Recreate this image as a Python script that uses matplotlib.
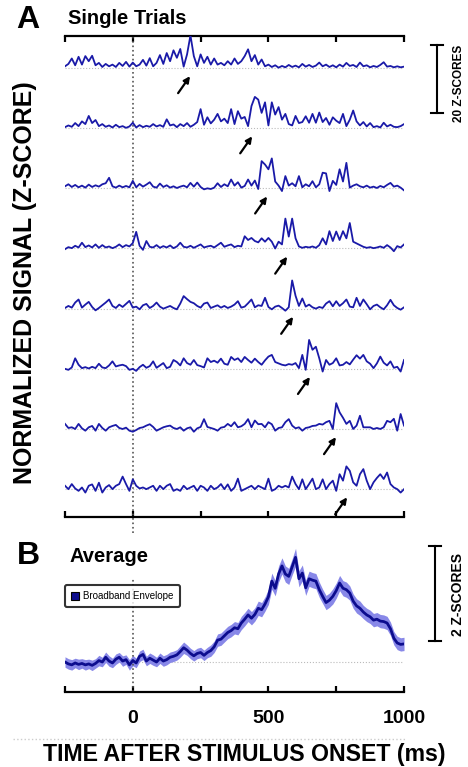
import numpy as np
import matplotlib
matplotlib.use('Agg')
import matplotlib.pyplot as plt
from matplotlib.lines import Line2D

plt.rcParams['font.family'] = ['Liberation Sans', 'DejaVu Sans']

# sample times (ms), one sample every 12.5 ms
time_ms = np.linspace(-250, 1000, 101)

# single trial broadband traces (z-score)
trial_1 = [0.5, 1.2, 2.8, 0.8, 3.3, 1.0, 3.5, 2.0, 3.6, 0.8, 1.5, 0.3, 1.2, 0.5, 1.0, 0.3, 1.5, 0.6, 1.8, 0.4,
           1.6, 0.5, 1.0, 2.4, 0.7, 2.9, 0.5, 1.5, 3.8, 1.2, 4.4, 2.0, 5.2, 3.0, 5.6, 0.4, 4.0, 9.6, 3.5, 0.5,
           4.0, 1.5, 3.3, 1.0, 2.8, 1.0, 1.5, 0.8, 2.0, 1.0, 2.8, 1.2, 2.0, 3.5, 5.5, 2.0, 3.8, 1.0, 2.5, 0.5,
           1.0, 0.3, 0.8, 0.1, 0.6, 0.2, 0.9, 0.3, 0.7, 0.2, 1.2, 0.4, 0.9, 0.3, 0.7, 1.6, 0.5, 1.0, 0.3, 0.8,
           0.2, 1.0, 0.4, 1.5, 0.6, 0.9, 0.3, 1.6, 0.5, 0.8, 0.2, 0.6, 0.3, 0.9, 1.7, 0.4, 0.6, 0.2, 0.5, 0.2,
           0.4]
trial_2 = [0.3, 0.8, 0.4, 1.5, 0.6, 2.0, 1.2, 3.6, 1.5, 2.4, 0.6, 1.2, 0.4, 0.8, 0.2, 1.0, 0.3, 0.6, 0.1, 0.5,
           1.6, 0.2, 0.9, 0.3, 0.7, 0.4, 1.2, 0.5, 0.9, 0.4, 2.6, 0.8, 1.1, 0.3, 1.2, 0.6, 1.5, 0.4, 1.0, 1.8,
           5.6, 1.0, 3.2, 1.4, 2.5, 4.2, 2.0, 2.8, 1.5, 5.6, 1.2, 5.0, 2.8, 3.3, 0.6, 6.5, 9.2, 8.4, 4.5, 7.6,
           0.8, 7.6, 4.0, 6.2, 2.5, 4.2, 1.2, 0.8, 3.6, 1.5, 1.8, 3.5, 1.6, 4.2, 1.6, 4.6, 1.8, 3.0, 1.0, 3.2,
           2.2, 1.5, 4.2, 0.6, 2.5, 5.2, 2.0, 0.8, 1.8, 0.5, 1.5, 0.3, 0.6, 0.2, 1.6, 0.5, 1.0, 0.4, 0.3, 0.6,
           1.2]
trial_3 = [0.6, 1.2, 0.4, 1.0, 0.3, 0.8, 0.2, 1.1, 0.4, 0.9, 0.5, 1.2, 1.5, 3.1, 0.6, 0.2, 0.8, 0.3, 0.7, 0.3,
           2.2, 0.3, 1.3, 0.5, 1.1, 1.8, 0.5, 0.2, 1.4, 0.4, 0.9, 0.2, 0.6, 0.1, 0.5, 0.8, 0.3, 1.6, 0.5, 1.7,
           0.4, -0.3, 0.0, -0.2, 0.2, 1.5, 0.4, 1.2, 0.6, 2.6, 0.8, 1.8, 0.2, 0.7, 2.6, 0.8, 2.3, -0.2, 8.0, 7.0,
           5.6, 8.8, 2.0, 0.8, -0.8, 3.6, 0.8, 1.5, 0.6, 3.6, 0.3, 1.2, 0.6, 2.1, 0.3, 1.2, 4.6, 4.4, -0.8, 2.2,
           1.0, 5.6, 2.0, 7.5, 0.2, 0.8, 1.2, 0.6, 0.3, 0.8, 0.2, 0.5, 0.1, 0.7, 0.3, 1.0, 1.6, 0.5, 0.8, 0.2,
           -0.6]
trial_4 = [-0.2, 0.4, 0.1, 0.8, 0.3, 1.7, 0.4, 0.9, 0.3, 1.2, 0.2, 1.0, 0.3, 0.6, 0.1, 0.5, 1.2, 0.4, 1.0, 0.6,
           1.6, 4.9, 0.8, -0.4, 2.2, 0.5, 0.3, 1.0, 0.2, 0.7, 0.3, 0.9, 0.1, 0.6, 1.7, 0.5, 0.3, 0.8, 0.2, 0.7,
           1.2, 0.3, 0.6, 0.8, 0.3, 1.0, 1.7, 0.5, 0.9, 1.2, 0.4, 0.8, 0.6, 3.6, 2.5, 3.1, 2.2, 1.8, 3.0, 2.0,
           3.1, 2.0, 0.0, 2.0, 1.2, 8.8, 3.5, 8.8, 3.0, 0.6, 0.2, 0.5, 0.3, 0.6, 0.2, 1.0, 3.0, 1.2, 5.1, 2.2,
           5.0, 2.5, 5.1, 3.0, 7.5, 2.0, 1.5, 1.0, 0.5, 0.2, 0.4, 0.1, 0.3, 0.6, 0.2, 1.0, 0.3, -0.8, 0.7, 0.3,
           1.2]
trial_5 = [0.2, 0.8, 0.3, 1.8, 2.7, 0.3, 1.2, 2.0, 0.5, -0.5, 0.2, 1.0, 1.8, 2.7, 0.8, 0.2, 1.2, 0.5, 1.4, 2.3,
           0.3, 0.6, -0.2, 1.0, 1.4, 0.2, 0.8, 1.8, 0.6, 0.0, 0.4, 0.8, 0.2, -0.2, 1.5, 3.7, 2.8, 2.0, 1.6, 0.8,
           0.3, 1.5, 1.8, 0.2, 0.6, 1.0, 0.3, 0.8, 0.2, 0.6, 1.2, 2.2, 0.3, 0.6, 1.6, 2.7, 0.4, 1.0, 0.8, 3.2,
           0.5, -0.2, 0.6, 0.9, 0.2, -0.6, 0.4, 8.3, 3.8, 0.8, 3.0, 0.6, 1.2, 0.4, 0.0, 0.5, 0.2, 1.5, 2.2, 0.7,
           2.2, 0.8, 1.6, 2.7, 0.6, 0.4, 3.2, 0.8, 2.7, 1.3, -0.2, 0.8, 1.2, 0.4, -0.2, 1.0, 2.6, 1.0, 0.2, -0.3,
           0.4]
trial_6 = [0.0, -0.3, 0.4, 3.1, 1.2, 0.2, 0.5, 0.1, 0.6, 0.2, 1.5, 0.4, 0.2, 1.0, 2.2, 0.7, 1.0, 1.2, 0.8, -0.3,
           0.0, -0.6, 0.5, 1.2, 0.3, 0.8, 2.2, 0.3, 1.0, 1.7, 0.2, 0.6, 2.6, 2.0, 1.0, 3.1, 1.7, 1.2, 2.6, 1.1,
           0.8, 0.4, 3.1, 2.0, 2.4, 1.8, 3.0, 1.5, 1.2, 3.5, 2.6, 3.1, 2.0, 3.5, 2.6, 1.8, 3.0, 2.0, 1.2, 2.5,
           3.6, 4.1, 2.0, 1.6, 1.2, 1.0, 1.4, 1.2, 1.7, 0.2, 4.1, -0.3, 8.5, 5.6, 6.5, 3.1, -0.8, 2.6, 1.2, 1.7,
           3.1, 1.0, 1.2, 2.0, 1.3, 2.7, 4.0, 3.0, 4.1, 2.2, 1.5, 0.2, 1.6, 3.6, 1.8, 1.0, 2.2, 0.3, 0.6, -0.8,
           2.6]
trial_7 = [1.5, 0.3, 0.5, 0.0, 1.5, 0.2, -0.5, 0.5, 0.9, -0.5, 1.5, 0.3, -0.5, 0.5, 0.9, 1.2, 0.3, 0.0, 0.4, -0.5,
           -0.8, -0.3, 0.3, 0.5, 1.0, 1.4, 0.6, -0.5, 0.0, 0.5, 0.8, 1.0, 0.3, 0.0, 0.5, -0.5, 0.2, 0.5, -0.8, 0.2,
           0.6, 2.9, 0.6, 0.3, 0.0, -0.5, 0.4, 0.6, 1.5, 0.8, 2.0, 0.5, 0.8, 1.5, 2.9, 0.5, 2.5, 1.4, 1.5, 0.5,
           2.0, 1.4, -0.5, 0.3, 0.5, 2.0, 2.9, 1.0, 0.2, 0.5, -0.5, 0.3, 0.5, 0.9, 1.0, 1.5, 1.3, 2.0, 2.4, 0.0,
           7.6, 4.9, 3.3, 1.5, 2.4, 0.0, 1.0, 3.9, 0.5, 0.5, 0.5, 0.0, 0.3, 0.0, 0.5, 2.4, 2.0, 3.0, -0.5, 4.4,
           1.0]
trial_8 = [1.0, 0.0, 1.5, 0.2, -0.5, 0.5, -1.0, 1.0, 1.4, -0.5, 1.9, -1.0, 0.5, 1.2, 0.0, 1.0, 1.5, 3.7, 1.5, -0.5,
           2.9, 1.0, 0.2, 0.5, 0.0, 0.5, 1.0, -0.5, 1.0, 0.0, 1.0, 1.5, -0.5, 0.0, -0.5, 1.0, 0.0, 0.5, 1.0, -0.5,
           1.0, 0.5, -0.5, 1.0, 0.0, 0.5, 1.5, 0.0, 1.4, -0.5, 0.5, 3.1, -0.5, 0.0, 0.5, 1.0, 0.0, 1.0, 0.5, 0.0,
           3.1, -0.5, 0.0, 1.0, 0.5, 1.0, 0.5, 3.7, 1.5, 0.0, 2.9, 0.0, 1.5, 3.1, 0.0, 0.5, 2.9, 0.0, 1.5, 2.5,
           -0.5, 4.4, 2.5, 6.7, 5.4, 2.0, 1.0, 4.4, 5.9, 2.5, 0.0, 2.0, 3.3, 4.4, 3.0, 4.9, 1.5, 0.5, 0.0, -1.0,
           0.0]
trials = [trial_1, trial_2, trial_3, trial_4, trial_5, trial_6, trial_7, trial_8]

# latency of the peak marked with an arrow in each trial (ms)
peak_latency = [211, 440, 495, 569, 591, 653, 749, 790]

# average broadband envelope (z-score) and its standard error
average_mean = [0.00, -0.04, -0.06, -0.02, -0.05, -0.03, -0.06, -0.04, -0.07, -0.03,
                0.03, 0.00, 0.10, 0.02, -0.02, 0.06, 0.10, 0.02, 0.05, -0.06,
                0.03, -0.02, 0.12, 0.16, 0.02, 0.08, 0.04, 0.00, 0.08, 0.02,
                0.05, 0.10, 0.12, 0.15, 0.22, 0.30, 0.25, 0.18, 0.13, 0.18,
                0.20, 0.14, 0.20, 0.24, 0.32, 0.46, 0.48, 0.55, 0.62, 0.66,
                0.72, 0.70, 0.82, 0.90, 0.99, 0.92, 1.00, 1.13, 1.10, 1.22,
                1.37, 1.70, 1.55, 1.85, 2.02, 1.85, 1.80, 2.00, 2.20, 1.75,
                1.87, 1.56, 1.75, 1.72, 1.70, 1.52, 1.38, 1.25, 1.30, 1.38,
                1.50, 1.66, 1.55, 1.52, 1.45, 1.28, 1.18, 1.13, 1.05, 0.99,
                0.95, 0.88, 0.90, 0.86, 0.85, 0.82, 0.70, 0.50, 0.40, 0.37,
                0.38]
average_sem = [0.11, 0.11, 0.11, 0.10, 0.11, 0.10, 0.11, 0.10, 0.11, 0.10,
               0.11, 0.10, 0.11, 0.11, 0.10, 0.11, 0.10, 0.11, 0.10, 0.11,
               0.11, 0.10, 0.11, 0.11, 0.10, 0.11, 0.11, 0.10, 0.11, 0.11,
               0.11, 0.11, 0.11, 0.11, 0.12, 0.12, 0.11, 0.11, 0.11, 0.11,
               0.11, 0.11, 0.11, 0.12, 0.12, 0.13, 0.13, 0.13, 0.13, 0.13,
               0.13, 0.13, 0.14, 0.14, 0.14, 0.14, 0.14, 0.15, 0.15, 0.15,
               0.16, 0.17, 0.16, 0.17, 0.17, 0.17, 0.17, 0.17, 0.19, 0.17,
               0.17, 0.16, 0.16, 0.16, 0.16, 0.16, 0.15, 0.15, 0.15, 0.16,
               0.16, 0.16, 0.16, 0.16, 0.15, 0.15, 0.15, 0.15, 0.14, 0.14,
               0.14, 0.14, 0.14, 0.14, 0.14, 0.14, 0.14, 0.14, 0.14, 0.14,
               0.14]

xticks = [-250, 0, 250, 500, 750, 1000]
xtick_labels = ['', '0', '', '500', '', '1000']

TRACE_COLOR = '#1A1AA8'
MEAN_COLOR = '#0C0C8E'
BAND_COLOR = '#8888E8'
SPACING = 17.7   # vertical distance between trials (z-score)


def style_axis(ax, top):
    for side in ['left', 'right']:
        ax.spines[side].set_visible(False)
    ax.spines['top'].set_visible(top)
    for side in ['top', 'bottom']:
        ax.spines[side].set_linewidth(1.6)
    ax.set_xlim(-250, 1000)
    ax.set_xticks(xticks)
    ax.set_yticks([])
    ax.tick_params(axis='x', direction='in', length=4.5, width=1.6, top=top, bottom=True)


def plot_trials(ax):
    style_axis(ax, top=True)
    ax.set_xticklabels([])
    ax.set_ylim(-132.1, 9.4)

    for k, tr in enumerate(trials):
        base = -SPACING * k
        ax.axhline(base, color='#bbbbbb', ls=':', lw=0.8, zorder=1)
        ax.plot(time_ms, np.array(tr) + base, color=TRACE_COLOR, lw=1.3, zorder=3,
                solid_joinstyle='round')
        # arrow pointing at the peak
        head = (peak_latency[k], base - 2.4)
        tail = (peak_latency[k] - 44, base - 7.4)
        ax.annotate('', xy=head, xytext=tail,
                    arrowprops=dict(arrowstyle='-|>', color='black', lw=1.6, mutation_scale=9,
                                    shrinkA=0, shrinkB=0))

    ax.axvline(0, ymin=-0.033, ymax=1, color='#555555', ls=':', lw=1.2, clip_on=False, zorder=2)

    # scale bar, 20 z-scores
    ax.plot([1122, 1122], [-13.2, 6.8], color='black', lw=1.5, clip_on=False)
    for yy in [-13.2, 6.8]:
        ax.plot([1100, 1144], [yy, yy], color='black', lw=1.5, clip_on=False)
    ax.text(1202, -4.6, '20 Z-SCORES', rotation=90, ha='center', va='center',
            fontsize=8.5, fontweight='bold')


def plot_average(ax):
    style_axis(ax, top=False)
    ax.set_xticklabels(xtick_labels, fontsize=14, fontweight='bold')
    ax.tick_params(axis='x', pad=13)
    ax.set_ylim(-0.63, 2.67)

    mean = np.array(average_mean)
    sem = np.array(average_sem)
    ax.axhline(0, color='#bbbbbb', ls=':', lw=0.8, zorder=1)
    ax.fill_between(time_ms, mean - sem, mean + sem, color=BAND_COLOR, lw=0, zorder=2)
    ax.plot(time_ms, mean, color=MEAN_COLOR, lw=2.0, zorder=3, solid_joinstyle='round')
    ax.axvline(0, ymin=0, ymax=0.726, color='#555555', ls=':', lw=1.2, zorder=2)

    handle = Line2D([], [], marker='s', ls='none', markersize=6, markerfacecolor=MEAN_COLOR,
                    markeredgecolor='black', markeredgewidth=0.8)
    leg = ax.legend([handle], ['Broadband Envelope'], loc='upper left', bbox_to_anchor=(0.0, 0.68),
                    borderaxespad=0, fontsize=7, frameon=True, fancybox=True, handlelength=0.8,
                    handletextpad=0.5, borderpad=0.6)
    leg.get_frame().set_edgecolor('black')
    leg.get_frame().set_linewidth(1.5)

    # scale bar, 2 z-scores
    ax.plot([1114, 1114], [0.44, 2.44], color='black', lw=1.5, clip_on=False)
    for yy in [0.44, 2.44]:
        ax.plot([1092, 1136], [yy, yy], color='black', lw=1.5, clip_on=False)
    ax.text(1200, 1.41, '2 Z-SCORES', rotation=90, ha='center', va='center',
            fontsize=10, fontweight='bold')


fig = plt.figure(figsize=(4.68, 7.67), dpi=100)
ax_a = fig.add_axes([0.1389, 0.3259, 0.7244, 0.6271])
ax_b = fig.add_axes([0.1389, 0.0978, 0.7244, 0.2047])
plot_trials(ax_a)
plot_average(ax_b)

W, H = 468, 767
fig.text(28 / W, 1 - 20 / H, 'A', fontsize=23, fontweight='bold', ha='center', va='center')
fig.text(68 / W, 1 - 18 / H, 'Single Trials', fontsize=14.5, fontweight='bold', ha='left', va='center')
fig.text(28 / W, 1 - 556 / H, 'B', fontsize=23, fontweight='bold', ha='center', va='center')
fig.text(70 / W, 1 - 557 / H, 'Average', fontsize=14.5, fontweight='bold', ha='left', va='center')
fig.text(25 / W, 1 - 283 / H, 'NORMALIZED SIGNAL (Z-SCORE)', rotation=90, fontsize=18,
         fontweight='bold', ha='center', va='center')
fig.text(244 / W, 1 - 755 / H, 'TIME AFTER STIMULUS ONSET (ms)', fontsize=16.7,
         fontweight='bold', ha='center', va='center')
fig.add_artist(Line2D([13 / W, 405 / W], [1 - 739 / H, 1 - 739 / H], color='#cccccc', ls=':', lw=1.0))

fig.savefig('out.png', dpi=100)
